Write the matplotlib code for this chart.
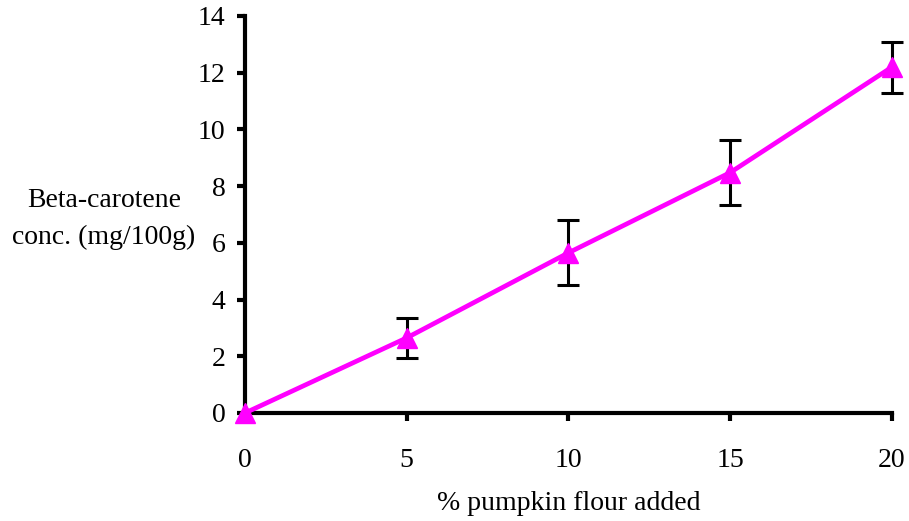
import matplotlib.pyplot as plt
import numpy as np

plt.rcParams['font.family'] = ['Liberation Serif', 'DejaVu Serif']

flour_pct = [0, 5, 10, 15, 20]
beta_carotene = [0.0, 2.65, 5.65, 8.48, 12.2]
err = [0.0, 0.71, 1.15, 1.15, 0.9]

fig = plt.figure(figsize=(9.09, 5.21), dpi=100)
ax = fig.add_axes([0.2695, 0.2073, 0.9813 - 0.2695, 0.9693 - 0.2073])

bars = ax.errorbar(flour_pct[1:], beta_carotene[1:], yerr=err[1:], fmt='none',
                   ecolor='black', elinewidth=2.2, capsize=8, capthick=2.2,
                   zorder=2)
for part in bars.lines[1] + bars.lines[2]:
    part.set_clip_on(False)
ax.plot(flour_pct, beta_carotene, color='#FF00FF', lw=3.4, marker='^',
        ms=15, zorder=3, clip_on=False)

ax.set_xlim(0, 20)
ax.set_ylim(0, 14)
ax.set_xticks(np.arange(0, 21, 5))
ax.set_yticks(np.arange(0, 15, 2))

for side in ['top', 'right']:
    ax.spines[side].set_visible(False)
for side in ['left', 'bottom']:
    ax.spines[side].set_linewidth(3)
ax.tick_params(axis='both', width=3, length=6, labelsize=20)
ax.tick_params(axis='y', pad=8)
ax.tick_params(axis='x', pad=19)

ax.set_xlabel('% pumpkin flour added', fontsize=20, labelpad=13)
ax.set_ylabel('Beta-carotene\nconc. (mg/100g)', fontsize=20, rotation=0,
              ha='center', va='center', linespacing=1.6)
ax.yaxis.set_label_coords(-0.218, 0.489)

fig.savefig('out.png', dpi=100)
